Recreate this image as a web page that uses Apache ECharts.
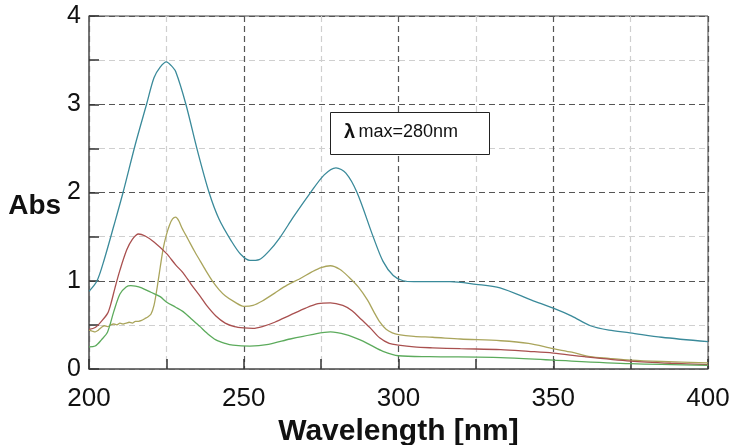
<!DOCTYPE html>
<html><head><meta charset="utf-8">
<script src="https://cdn.jsdelivr.net/npm/echarts@6/dist/echarts.min.js"></script>
<style>html,body{margin:0;padding:0;background:#fff}#c{width:734px;height:445px}</style>
</head><body><div id="c"></div>
<script>
const xTicks = [200, 250, 300, 350, 400];
const yTicks = [0, 1, 2, 3, 4];

const tealX = [200,202.6,205,208,211,215,218.6,221,223,225,226.5,228,231.3,235,238.8,242,246,249,252,255,258,261.7,266,271.4,276,279.8,283,286.6,291.8,295,298.3,301.5,305,310,316.6,325,332.8,343,350,356,362,368,374.8,385,400];
const tealY = [0.88,1.0,1.25,1.62,2.0,2.55,3.0,3.3,3.42,3.48,3.44,3.37,3.0,2.48,2.0,1.7,1.45,1.3,1.23,1.24,1.33,1.49,1.72,1.99,2.2,2.28,2.22,2.0,1.5,1.22,1.06,1.0,0.99,0.99,0.99,0.96,0.92,0.78,0.69,0.6,0.49,0.44,0.41,0.36,0.31];

const oliveX = [200,201,202,203,204,205,206,207,208,209,210,211,212,213,214,215,216,217,218,219,220,221,222,223,224,225,226,227,228,229,230,232,234,236,238,240,242,244,247,250,253,256,260,264,268,272,275,278,281,284,287,290,292,294,296,298,300,305,311,320,333,342,350,356,362,368,375,385,400];
const oliveY = [0.44,0.43,0.42,0.44,0.47,0.49,0.48,0.50,0.51,0.50,0.52,0.51,0.52,0.53,0.52,0.54,0.54,0.55,0.57,0.59,0.62,0.72,0.92,1.15,1.37,1.52,1.63,1.70,1.72,1.68,1.60,1.47,1.34,1.22,1.10,0.99,0.90,0.83,0.76,0.71,0.72,0.77,0.86,0.95,1.02,1.10,1.15,1.17,1.13,1.04,0.93,0.78,0.65,0.53,0.45,0.41,0.39,0.37,0.36,0.34,0.32,0.29,0.23,0.19,0.14,0.12,0.10,0.085,0.07];

const redX = [200,202,204,206,207,208.4,210,212.2,214,216,218,221,225,228,230.4,233,236,238,241,244,247,250,253,256,260,265,270,274,278,282,285,288,291,294,297,300,305,311,320,333,342,350,360,375,388,400];
const redY = [0.45,0.47,0.54,0.63,0.73,0.92,1.12,1.35,1.47,1.53,1.51,1.44,1.31,1.18,1.09,0.96,0.82,0.72,0.60,0.52,0.48,0.465,0.46,0.48,0.53,0.61,0.69,0.74,0.75,0.72,0.66,0.56,0.46,0.35,0.29,0.27,0.25,0.24,0.23,0.22,0.20,0.18,0.14,0.09,0.065,0.05];

const greenX = [200,202,204,206,208,210,212,213.5,215,217,220,223,225,228,230.4,233,235.9,238,241,244,246.5,252,258,265,272,278,283,287.6,291,295,300,310,333,350,375,400];
const greenY = [0.25,0.26,0.33,0.42,0.65,0.85,0.93,0.945,0.94,0.92,0.87,0.82,0.76,0.70,0.65,0.57,0.48,0.41,0.33,0.29,0.27,0.26,0.28,0.34,0.39,0.42,0.39,0.33,0.27,0.20,0.15,0.14,0.13,0.10,0.06,0.04];

const annotation = 'max=280nm';

function zip(xs, ys){ return xs.map((x,i)=>[x, ys[i]]); }

const chart = echarts.init(document.getElementById('c'), null, {renderer:'canvas'});
const mk = (name, xs, ys, color) => ({
  name, type:'line', data: zip(xs, ys), smooth: 0.3, showSymbol:false, symbol:'none',
  lineStyle:{color, width:1.3}, itemStyle:{color}, z:3
});
chart.setOption({
  animation:false,
  backgroundColor:'#fff',
  grid:{left:89, right:26, top:16, bottom:76, containLabel:false, outerBoundsMode:'none',
    show:true, borderColor:'#444', borderWidth:1},
  xAxis:{
    type:'value', min:200, max:400, interval:25,
    name:'Wavelength [nm]', nameLocation:'middle', nameGap:48,
    nameTextStyle:{fontFamily:'Liberation Sans', fontWeight:'bold', fontSize:30, color:'#111'},
    axisLine:{show:true, onZero:false, lineStyle:{color:'#666', width:1.5}},
    axisTick:{show:true, inside:true, length:10, lineStyle:{color:'#333', width:1.5}},
    axisLabel:{fontFamily:'Liberation Sans', fontSize:26, color:'#111', margin:17,
      formatter: v => xTicks.includes(v) ? String(v) : ''},
    splitLine:{show:true, lineStyle:{color:['#555','#cfcfcf'], type:[6,4], width:1.2}}
  },
  yAxis:{
    type:'value', min:0, max:4, interval:0.5,
    name:'Abs', nameLocation:'middle', nameGap:27, nameRotate:0,
    nameTextStyle:{fontFamily:'Liberation Sans', fontWeight:'bold', fontSize:28, color:'#111', verticalAlign:'top'},
    axisLine:{show:true, lineStyle:{color:'#666', width:1.5}},
    axisTick:{show:true, inside:true, length:10, lineStyle:{color:'#333', width:1.5}},
    axisLabel:{fontFamily:'Liberation Sans', fontSize:25, color:'#111', margin:8,
      formatter: v => yTicks.includes(v) ? String(v) : ''},
    splitLine:{show:true, lineStyle:{color:['#555','#cfcfcf'], type:[6,4], width:1.2}}
  },
  series:[
    mk('Sample 1', tealX, tealY, '#3a8a9a'),
    mk('Sample 2', oliveX, oliveY, '#aaa55c'),
    mk('Sample 3', redX, redY, '#a9504f'),
    mk('Sample 4', greenX, greenY, '#5cab5c')
  ],
  graphic:[
    {type:'rect', left:330, top:112, shape:{width:159, height:42}, style:{fill:'#fff', stroke:'#222', lineWidth:1}, z:10},
    {type:'text', left:344, top:122, z:11,
      style:{text:'{l|λ} {t|' + annotation + '}', rich:{
        l:{fontFamily:'Liberation Sans', fontWeight:'bold', fontSize:20, fill:'#111'},
        t:{fontFamily:'Liberation Sans', fontSize:18, fill:'#111'}
      }}}
  ]
});
</script>
</body></html>
